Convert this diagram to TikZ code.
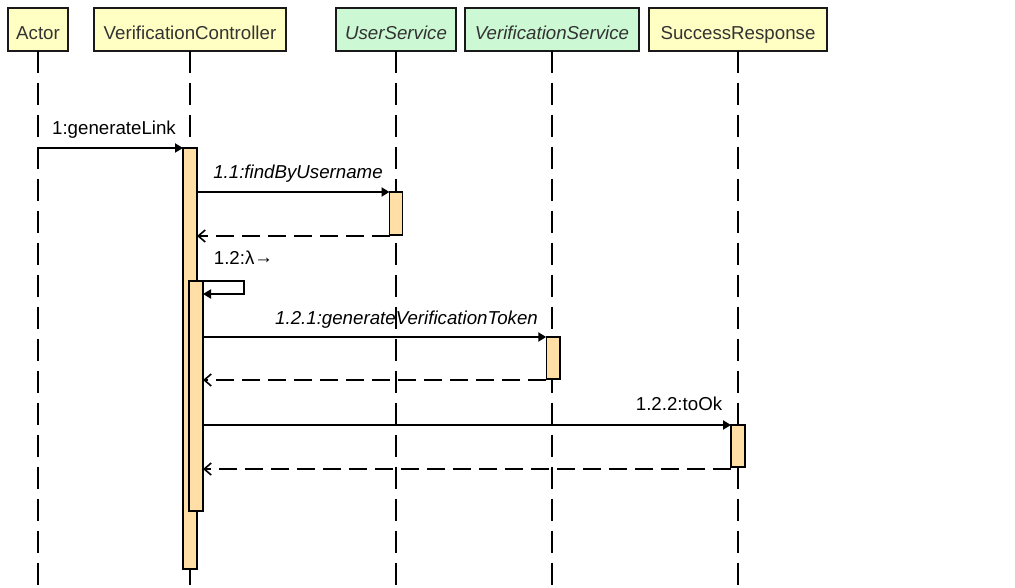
\documentclass[tikz,border=0pt]{standalone}
\usepackage{fontspec}
\setmainfont{Liberation Sans}
\usetikzlibrary{arrows.meta,calc}
\definecolor{hdryellow}{HTML}{FFFFC3}
\definecolor{hdrgreen}{HTML}{CCF8D4}
\definecolor{actfill}{HTML}{FFDFA6}
\definecolor{hdrtext}{HTML}{333333}
\tikzset{
  hdr/.style={draw=black!90, line width=2pt, minimum height=42.7pt, text height=20pt, text depth=0pt,
    inner sep=0pt, outer sep=0pt, text=hdrtext, font=\fontsize{18.7}{22}\selectfont},
  act/.style={draw=black, fill=actfill, line width=1.5pt, minimum width=14pt, inner sep=0pt, outer sep=0pt, anchor=north},
  life/.style={line width=2pt, dash pattern=on 22.5pt off 9.5pt},
  msg/.style={line width=2pt, -{Triangle[length=8pt,width=9pt]}},
  ret/.style={line width=2pt, dash pattern=on 18pt off 8pt, -{Straight Barb[length=7pt,width=12pt,line width=1.6pt]}},
  lbl/.style={anchor=base, inner sep=0pt, font=\fontsize{18.7}{22}\selectfont},
  ilbl/.style={lbl, font=\fontsize{18.7}{22}\selectfont\itshape}
}
\begin{document}
\begin{tikzpicture}[x=1pt,y=-1pt]
\useasboundingbox (0,0) rectangle (1015,588);
% headers
\node[hdr, fill=hdryellow, minimum width=60.7pt] (actor) at (38,29.3) {Actor};
\node[hdr, fill=hdryellow, minimum width=191.7pt] (vc) at (190,29.3) {VerificationController};
\node[hdr, fill=hdrgreen, minimum width=119.7pt, font=\fontsize{18.7}{22}\selectfont\itshape] (usv) at (396,29.3) {UserService};
\node[hdr, fill=hdrgreen, minimum width=174pt, font=\fontsize{18.7}{22}\selectfont\itshape] (vsv) at (552,29.3) {VerificationService};
\node[hdr, fill=hdryellow, minimum width=178pt] (srp) at (738,29.3) {SuccessResponse};
\coordinate (bot) at (0,590);
% lifelines
\draw[life] (actor.south) -- (actor.south |- bot);
\draw[life] (vc.south) -- (vc.south |- bot);
\draw[life] (usv.south) -- (usv.south |- bot);
\draw[life] (vsv.south) -- (vsv.south |- bot);
\draw[life] (srp.south) -- (srp.south |- bot);
% activations
\node[act, minimum height=421pt] (a1) at (190,148) {};
\node[act, minimum height=230pt] (a2) at (196,281) {};
\node[act, minimum height=43pt, minimum width=13pt] (us) at (396,192) {};
\node[act, minimum height=42pt, minimum width=13.5pt] (vs) at (553,337) {};
\node[act, minimum height=42pt] (sr) at (738,425) {};
% messages
\coordinate (l1) at (actor.south |- a1.north);
\draw[msg] (l1) -- (a1.north west);
\node[lbl] (t1) at (114,134.5) {1:generateLink};
\draw[msg] (a1.east |- us.north) -- (us.north west);
\node[ilbl] (t11) at (298,178.3) {1.1:findByUsername};
\coordinate (usr) at ($(us.south west)+(0,1)$);
\draw[ret] (usr) -- (a1.east |- usr);
\node[lbl] (t12) at (243.5,265) {1.2:λ\raisebox{1.5pt}{→}};
\draw[msg] (a2.north east) -- ++(41,0) |- ($(a2.north east)+(0,13)$);
\draw[msg] (a2.east |- vs.north) -- (vs.north west);
\node[ilbl] (t121) at (406.5,324) {1.2.1:generateVerificationToken};
\coordinate (vsr) at ($(vs.south west)+(0,1)$);
\draw[ret] (vsr) -- (a2.east |- vsr);
\draw[msg] (a2.east |- sr.north) -- (sr.north west);
\node[lbl] (t122) at (679,410.7) {1.2.2:toOk};
\coordinate (srr) at ($(sr.south west)+(0,2)$);
\draw[ret] (srr) -- (a2.east |- srr);
\end{tikzpicture}
\end{document}
